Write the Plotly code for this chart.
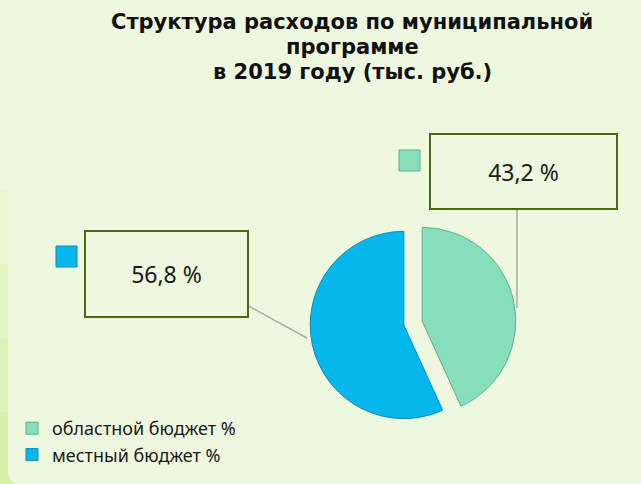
import plotly.graph_objects as go

# data
labels = ['областной бюджет %', 'местный бюджет %']
values = [43.2, 56.8]
colors = ['#86DFBA', '#06B7EC']
edge_colors = ['#5FAE8C', '#0B8DBE']

title_lines = ['Структура расходов по муниципальной', 'программе', 'в 2019 году (тыс. руб.)']

W, H = 641, 484
bg = '#EEF8DE'


def px(x):
    return x / W


def py(y):
    # y measured from the top of the picture
    return 1 - y / H


fig = go.Figure()

fig.add_trace(go.Pie(
    labels=labels,
    values=values,
    sort=False,
    direction='clockwise',
    rotation=0,
    pull=[0.1, 0.1],
    textinfo='none',
    hoverinfo='label+percent',
    marker=dict(colors=colors, line=dict(color=edge_colors, width=1)),
    domain=dict(x=[px(310), px(516)], y=[py(426), py(220)]),
    showlegend=True,
))

# data label boxes
label_boxes = [
    dict(cx=523, cy=171, w=189, h=77),   # областной
    dict(cx=166, cy=274, w=165, h=88),   # местный
]
keys = [(399, 150), (56, 246)]

annotations = []
# title, one annotation per line to get the wider line spacing
for line, y in zip(title_lines, [22, 47, 72]):
    annotations.append(dict(
        x=px(352), y=py(y), xref='paper', yref='paper',
        text=f'<b>{line}</b>', showarrow=False, xanchor='center', yanchor='middle',
        font=dict(family='DejaVu Sans', size=21, color='#111111'),
    ))
shapes = []

# background: left strip and rounded corner
strip = ['#E9F7D2', '#E2F5C4', '#DCF3B6', '#D6F2AA']
for i, c in enumerate(strip):
    y_top = 190 + i * 74
    shapes.append(dict(type='rect', xref='paper', yref='paper', layer='below',
                       x0=0, x1=px(8), y0=py(y_top + 74 if i < 3 else H), y1=py(y_top),
                       fillcolor=c, line=dict(width=0)))
shapes.append(dict(type='path', xref='paper', yref='paper', layer='below',
                   path=f'M {px(8)},{py(470)} L {px(8)},0 L {px(22)},0 Q {px(8)},0 {px(8)},{py(470)} Z',
                   fillcolor=strip[-1], line=dict(width=0)))

for i, (v, b, k) in enumerate(zip(values, label_boxes, keys)):
    txt = f'{v:.1f}'.replace('.', ',') + ' %'
    annotations.append(dict(
        x=px(b['cx']), y=py(b['cy']), xref='paper', yref='paper',
        text=txt, showarrow=False, width=b['w'] - 6, height=b['h'] - 6,
        font=dict(size=23, color='#1A1A1A', family='Noto Sans'),
        bordercolor='#4B6A10', borderwidth=2, bgcolor=bg,
        xanchor='center', yanchor='middle', valign='middle',
    ))
    shapes.append(dict(type='rect', xref='paper', yref='paper',
                       x0=px(k[0]), x1=px(k[0] + 21), y0=py(k[1] + 21), y1=py(k[1]),
                       fillcolor=colors[i], line=dict(color=edge_colors[i], width=1)))

# leader lines
shapes.append(dict(type='line', xref='paper', yref='paper',
                   x0=px(517), y0=py(210), x1=px(517), y1=py(308),
                   line=dict(color='#A8A8A8', width=1.5)))
shapes.append(dict(type='path', xref='paper', yref='paper',
                   path=f'M {px(200)},{py(286)} L {px(212)},{py(286)} L {px(307)},{py(338)}',
                   line=dict(color='#A8A8A8', width=1.5)))

fig.update_layout(
    width=W, height=H,
    paper_bgcolor=bg,
    plot_bgcolor=bg,
    margin=dict(l=0, r=0, t=0, b=0),
    legend=dict(x=px(12), y=py(410), xanchor='left', yanchor='top',
                font=dict(family='Noto Sans', size=18, color='#1A1A1A'),
                bgcolor='rgba(0,0,0,0)'),
    annotations=annotations,
    shapes=shapes,
)

# drop the default page margin so the figure sits at the window corner
fig.write_html('out.html', config=dict(displayModeBar=False),
               post_script="document.body.style.margin='0';")
